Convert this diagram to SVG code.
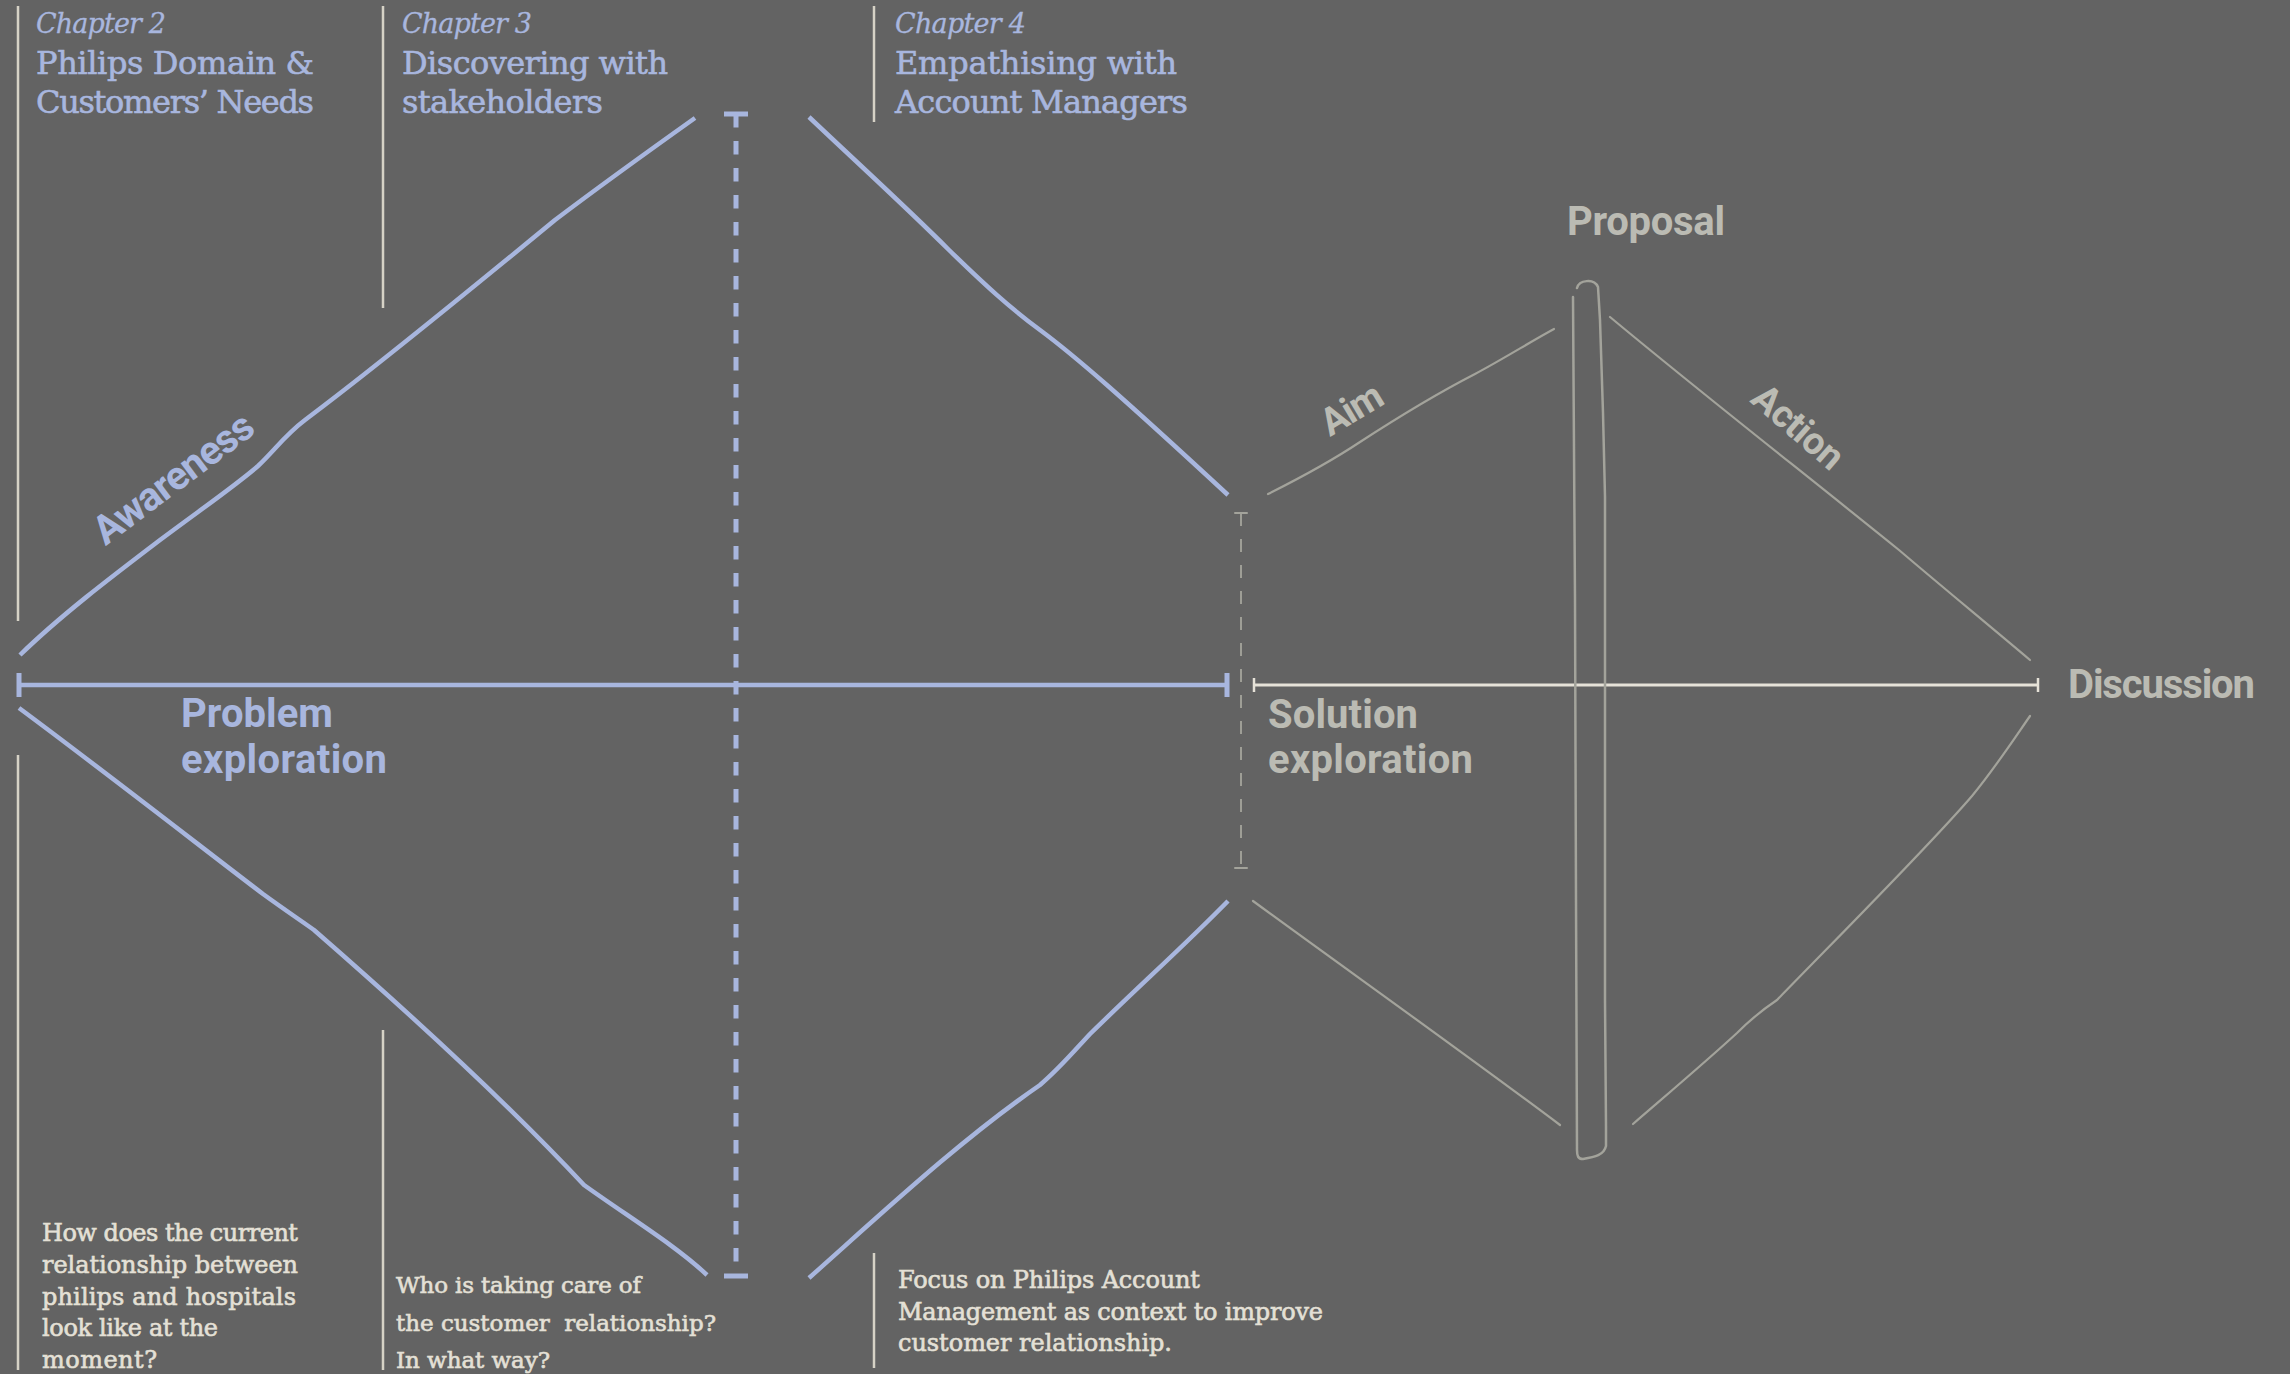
<svg xmlns="http://www.w3.org/2000/svg" width="2290" height="1374" viewBox="0 0 2290 1374">
  <style>
    .bg { fill: #636363; }
    .head { font-family: "DejaVu Serif", "Liberation Serif", serif; fill: #a8b6de; stroke: #a8b6de; stroke-width: 0.6; font-size: 32px; }
    .chap { font-style: italic; font-size: 27px; stroke-width: 0.3; }
    .note { font-family: "DejaVu Serif", "Liberation Serif", serif; fill: #e4e0d6; stroke: #e4e0d6; stroke-width: 0.6; font-size: 24px; }
    .lbl { font-family: Roboto, "Liberation Sans", sans-serif; font-weight: 700; font-size: 40px; }
    .lbl-blue { fill: #a8b6de; }
    .lbl-grey { fill: #bbbbb3; }
    .sep { stroke: #d6d2c6; stroke-width: 2.5; fill: none; }
    .blue { stroke: #a8b6de; stroke-width: 4.5; fill: none; stroke-linejoin: round; stroke-linecap: butt; }
    .blue-dash { stroke: #a8b6de; stroke-width: 5; fill: none; stroke-dasharray: 13.5 13.5; }
    .grey { stroke: #a3a39b; stroke-width: 2.2; fill: none; stroke-linejoin: round; stroke-linecap: round; }
    .grey-dash { stroke: #9e9e96; stroke-width: 2; fill: none; stroke-dasharray: 13 13; }
    .cream { stroke: #e6e2d8; stroke-width: 3; fill: none; }
  </style>

  <rect class="bg" x="0" y="0" width="2290" height="1374"/>

  <!-- chapter separators -->
  <g id="separators">
    <line class="sep" x1="18" y1="6" x2="18" y2="621"/>
    <line class="sep" x1="383" y1="6" x2="383" y2="308"/>
    <line class="sep" x1="874" y1="6" x2="874" y2="122"/>
    <line class="sep" x1="18" y1="755" x2="18" y2="1370"/>
    <line class="sep" x1="383" y1="1030" x2="383" y2="1370"/>
    <line class="sep" x1="874" y1="1253" x2="874" y2="1368"/>
  </g>

  <!-- chapter headings -->
  <g id="chapter-2">
    <text class="head chap" x="36" y="33" textLength="130">Chapter 2</text>
    <text class="head" x="36" y="74" textLength="278">Philips Domain &amp;</text>
    <text class="head" x="36" y="113" textLength="278">Customers’ Needs</text>
  </g>
  <g id="chapter-3">
    <text class="head chap" x="402" y="33" textLength="130">Chapter 3</text>
    <text class="head" x="402" y="74" textLength="266">Discovering with</text>
    <text class="head" x="402" y="113" textLength="201">stakeholders</text>
  </g>
  <g id="chapter-4">
    <text class="head chap" x="895" y="33" textLength="131">Chapter 4</text>
    <text class="head" x="895" y="74" textLength="282">Empathising with</text>
    <text class="head" x="895" y="113" textLength="293">Account Managers</text>
  </g>

  <!-- research questions -->
  <g id="question-2">
    <text class="note" x="42" y="1241" textLength="256">How does the current</text>
    <text class="note" x="42" y="1273" textLength="256">relationship between</text>
    <text class="note" x="42" y="1305" textLength="254">philips and hospitals</text>
    <text class="note" x="42" y="1336" textLength="176">look like at the</text>
    <text class="note" x="42" y="1368" textLength="115">moment?</text>
  </g>
  <g id="question-3">
    <text class="note" x="396" y="1293" textLength="245" style="font-size:23px">Who is taking care of</text>
    <text class="note" x="396" y="1331" textLength="320" style="font-size:23px" xml:space="preserve">the customer  relationship?</text>
    <text class="note" x="396" y="1368" textLength="154" style="font-size:23px">In what way?</text>
  </g>
  <g id="question-4">
    <text class="note" x="898" y="1288" textLength="302">Focus on Philips Account</text>
    <text class="note" x="898" y="1320" textLength="425">Management as context to improve</text>
    <text class="note" x="898" y="1351" textLength="274">customer relationship.</text>
  </g>

  <!-- connectors: the double diamond -->
  <g id="connectors">
    <!-- problem diamond (blue) -->
    <path class="blue" d="M20,655 C60,616 110,578 160,540 C200,510 235,486 258,466 C275,450 285,435 305,420 C380,364 470,290 555,220 C600,186 650,150 695,118"/>
    <path class="blue" d="M809,117 C850,156 905,206 949,250 C985,285 1010,308 1040,330 C1075,356 1120,395 1228,495"/>
    <path class="blue" d="M19,708 C100,768 200,846 263,894 C285,910 300,920 314,930 C400,1005 500,1095 584,1185 C630,1218 675,1245 707,1275"/>
    <path class="blue" d="M809,1278 C880,1215 960,1140 1040,1085 C1060,1068 1075,1050 1090,1034 C1140,985 1185,945 1228,901"/>

    <!-- problem exploration axis -->
    <line class="blue" x1="19" y1="685" x2="1227" y2="685"/>
    <line class="blue" x1="19" y1="673" x2="19" y2="697" style="stroke-width:5"/>
    <line class="blue" x1="1227" y1="673" x2="1227" y2="697" style="stroke-width:5"/>

    <!-- stage divider (blue dashed) -->
    <line class="blue-dash" x1="736" y1="114" x2="736" y2="1276"/>
    <line class="blue" x1="724" y1="114" x2="748" y2="114" style="stroke-width:5"/>
    <line class="blue" x1="724" y1="1276" x2="748" y2="1276" style="stroke-width:5"/>

    <!-- diamond boundary (grey dashed) -->
    <line class="grey-dash" x1="1241" y1="513" x2="1241" y2="868"/>
    <line class="grey" x1="1235" y1="513" x2="1247" y2="513" style="stroke-width:2"/>
    <line class="grey" x1="1235" y1="868" x2="1247" y2="868" style="stroke-width:2"/>

    <!-- solution exploration axis -->
    <line class="cream" x1="1254" y1="685" x2="2038" y2="685"/>
    <line class="cream" x1="1254" y1="678" x2="1254" y2="692" style="stroke-width:2.5"/>
    <line class="cream" x1="2038" y1="678" x2="2038" y2="692" style="stroke-width:2.5"/>

    <!-- solution diamond (grey) -->
    <path class="grey" d="M1268,494 C1300,478 1330,462 1360,442 C1400,416 1440,392 1475,374 C1505,358 1530,342 1554,329"/>
    <path class="grey" d="M1610,317 C1700,392 1800,470 1899,550 C1940,585 1985,622 2030,660"/>
    <path class="grey" d="M1253,901 C1350,972 1460,1050 1560,1125"/>
    <path class="grey" d="M1633,1124 C1670,1092 1710,1058 1737,1033 C1752,1018 1762,1010 1777,1000 C1850,925 1930,845 1972,796 C1995,768 2012,742 2030,716"/>
  </g>

  <!-- proposal bar -->
  <g id="proposal-bar">
    <path class="grey" style="stroke-width:2.5" d="M1577,288 C1579,280 1594,278 1598,287 L1600,320 L1603,413 L1605,497 L1605,700 L1605,1000 L1606,1127 L1606,1146 C1604,1155 1595,1157 1583,1159 C1578,1159 1577,1156 1577,1150 L1576,900 L1575,600 L1573,297"/>
  </g>

  <!-- stage labels -->
  <g id="label-problem">
    <text class="lbl lbl-blue" x="181" y="727" textLength="152">Problem</text>
    <text class="lbl lbl-blue" x="181" y="773" textLength="206">exploration</text>
  </g>
  <g id="label-solution">
    <text class="lbl lbl-grey" x="1268" y="728" textLength="150">Solution</text>
    <text class="lbl lbl-grey" x="1268" y="773" textLength="205">exploration</text>
  </g>
  <g id="label-discussion">
    <text class="lbl lbl-grey" x="2068" y="698" textLength="187">Discussion</text>
  </g>
  <g id="label-proposal">
    <text class="lbl lbl-grey" x="1567" y="235" textLength="158">Proposal</text>
  </g>
  <g id="label-awareness">
    <text class="lbl lbl-blue" style="font-size:40px" transform="translate(173,478) rotate(-37)" x="0" y="14" text-anchor="middle" textLength="190">Awareness</text>
  </g>
  <g id="label-aim">
    <text class="lbl lbl-grey" style="font-size:38px" transform="translate(1351,408) rotate(-31)" x="0" y="14" text-anchor="middle" textLength="66">Aim</text>
  </g>
  <g id="label-action">
    <text class="lbl lbl-grey" style="font-size:38px" transform="translate(1799,426) rotate(41)" x="0" y="14" text-anchor="middle" textLength="108">Action</text>
  </g>
</svg>
